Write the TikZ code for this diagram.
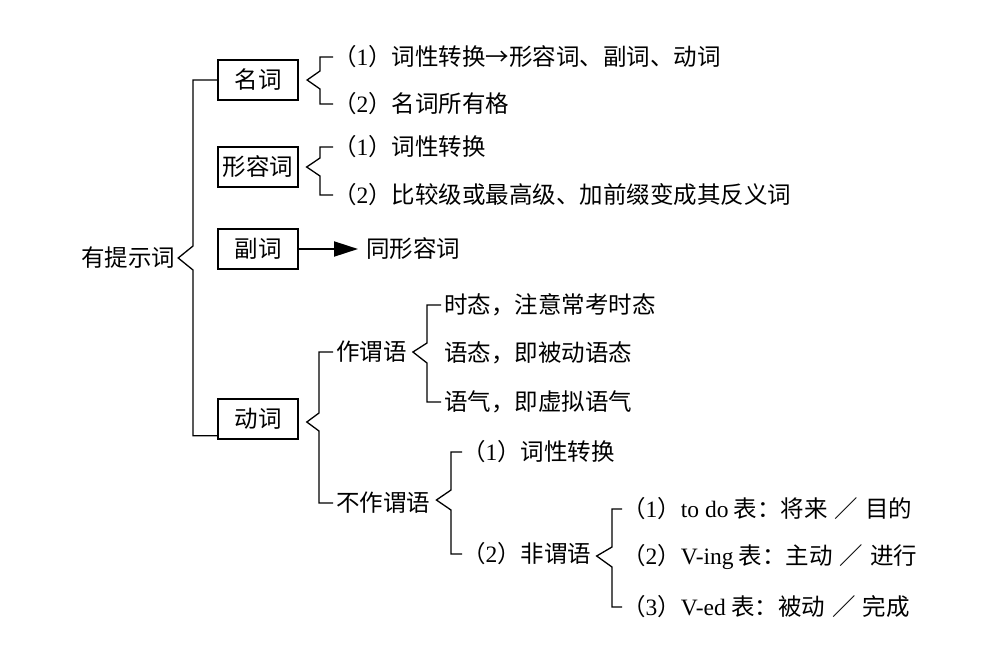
\documentclass[tikz,border=0pt]{standalone}
\usepackage{fontspec}
\setmainfont{Noto Sans CJK SC}
\newfontfamily\lat{Liberation Serif}
\newcommand\pn[1]{（{\lat #1}）}
\newcommand\slsep{\hspace{0.3em}／\hspace{0.3em}}
\usetikzlibrary{arrows.meta,calc}
\begin{document}
\begin{tikzpicture}[x=1pt,y=-1pt,
  font=\fontsize{23.5}{28}\selectfont,
  box/.style={draw, minimum width=80pt, minimum height=40pt, inner sep=2pt},
  tx/.style={anchor=west, inner xsep=3pt, inner ysep=0pt},
  it/.style={anchor=west, inner sep=0pt},
  br/.style={line width=1.3pt},
  arr/.style={line width=2pt, -{Triangle[length=24pt,width=15pt]}, shorten >=5pt}]
\useasboundingbox (0,0) rectangle (984,651);
% nodes
\node[inner sep=0pt] (r) at (128,258) {有提示词};
\node[box, line width=2.2pt] (n1) at (258,80) {名词};
\node[box, line width=1.3pt] (n2) at (258,167) {形容词};
\node[box, line width=2.2pt] (n3) at (258,249) {副词};
\node[box, line width=1.6pt] (v) at (258,419) {动词};
\node[it] (a1) at (333,57) {\pn{1}词性转换→形容词、副词、动词};
\node[it] (a2) at (333,104) {\pn{2}名词所有格};
\node[it] (b1) at (333,147) {\pn{1}词性转换};
\node[it] (b2) at (333,195) {\pn{2}比较级或最高级、加前缀变成其反义词};
\node[tx] (t) at (363,249) {同形容词};
\node[tx] (p) at (333,352) {作谓语};
\node[tx] (q) at (333,503) {不作谓语};
\node[tx] (c1) at (441,305) {时态，注意常考时态};
\node[tx] (c2) at (441,353) {语态，即被动语态};
\node[tx] (c3) at (441,402) {语气，即虚拟语气};
\node[it] (d1) at (462,452) {\pn{1}词性转换};
\node[it] (d2) at (462,554) {\pn{2}非谓语};
\node[it] (e1) at (622,509) {\pn{1}{\lat to do} 表：将来\slsep 目的};
\node[it] (e2) at (622,557) {\pn{2}{\lat V-ing} 表：主动\slsep 进行};
\node[it] (e3) at (622,607) {\pn{3}{\lat V-ed} 表：被动\slsep 完成};
% connectors
\draw[br] (n1.west) -| (193,246) -- ($(r.east)+(3,0)$) -- (193,270) |- ($(v.south west)+(0,-4)$);
\draw[br] (a1.west) -| (320,71) -- ($(n1.east)+(8,0)$) -- (320,89) |- (a2.west);
\draw[br] (b1.west) -| (320,158) -- ($(n2.east)+(8,0)$) -- (320,176) |- (b2.west);
\draw[arr] (n3.east) -- (t.west);
\draw[br] (p.west) -| (319,413) -- ($(v.east)+(8,3)$) -- (319,431) |- (q.west);
\draw[br] (c1.west) -| (427,343) -- ($(p.east)+(3,0)$) -- (427,363) |- (c3.west);
\draw[br] (d1.west) -| (451,490) -- ($(q.east)+(3,-3)$) -- (451,510) |- (d2.west);
\draw[br] (e1.west) -| (612,547) -- ($(d2.east)+(5,2)$) -- (612,567) |- (e3.west);
\end{tikzpicture}
\end{document}
